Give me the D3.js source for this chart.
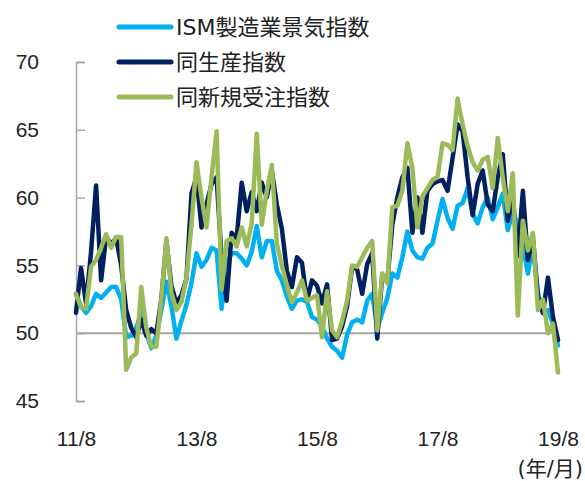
<!DOCTYPE html>
<html lang="ja">
<head>
<meta charset="UTF-8">
<title>ISM製造業景気指数</title>
<script src="https://cdnjs.cloudflare.com/ajax/libs/d3/7.8.5/d3.min.js"></script>
<style>
  html, body { margin: 0; padding: 0; background: #fff; }
  svg { display: block; font-family: "DejaVu Sans", "Noto Sans CJK JP", sans-serif; }
  .axis text { font-size: 21px; fill: #222; }
  .legend text { font-size: 22px; fill: #222; }
</style>
</head>
<body>
<svg id="chart" width="585" height="481"></svg>
<script>
// 2011/8 ～ 2019/8 の月次データ (97か月)
const xTickIndex = [0, 24, 48, 72, 96];
const xTickLabels = ["11/8", "13/8", "15/8", "17/8", "19/8"];
const yTicks = [45, 50, 55, 60, 65, 70];

const ismValues = [
  52.9, 52.0, 51.5, 52.0, 52.9, 52.6, 53.0, 53.4, 53.4, 52.5, 49.7, 49.8, 50.4, 51.5, 50.0, 48.9,
  49.8, 51.7, 53.8, 52.0, 49.6, 50.9, 52.1, 53.7, 55.9, 54.9, 55.4, 56.3, 56.1, 51.8, 55.1, 55.9,
  55.9, 55.5, 55.0, 56.0, 57.9, 55.6, 56.8, 56.8, 54.6, 53.9, 52.7, 51.8, 52.4, 52.5, 52.3, 51.2,
  51.0, 50.5, 49.6, 49.0, 48.7, 48.2, 49.9, 50.8, 51.0, 50.8, 52.4, 52.9, 50.4, 51.5, 52.6, 54.4,
  54.1, 55.6, 57.5, 56.1, 55.6, 55.5, 56.3, 56.6, 58.3, 59.9, 58.5, 57.7, 59.4, 59.6, 60.7, 58.8,
  58.1, 59.3, 60.0, 58.4, 59.3, 60.3, 57.6, 59.0, 58.0, 56.5, 54.4, 56.5, 53.0, 51.5, 51.7, 50.7,
  49.1
];

const productionValues = [
  51.5, 54.8, 52.2, 56.0, 60.9, 53.9, 57.1, 56.6, 57.0, 55.0, 51.7, 50.4, 49.7, 51.0, 49.8, 50.3,
  50.0, 52.5, 56.8, 53.5, 52.2, 52.8, 54.0, 60.3, 61.5, 57.8, 59.5, 61.0, 61.5, 55.5, 52.4, 57.4,
  57.0, 61.1, 59.0, 60.4, 59.0, 61.1, 60.0, 62.0, 59.5, 57.7, 54.6, 53.4, 55.6, 55.2, 52.4, 53.9,
  53.5, 52.2, 53.6, 49.5, 49.6, 50.5, 52.0, 54.9, 54.7, 52.9, 55.1, 55.9, 49.6, 54.3, 53.8, 58.0,
  60.0, 61.5, 62.2, 57.4, 60.0, 57.4, 60.5, 61.0, 61.2, 61.3, 60.5, 62.9, 65.4, 64.9, 61.5, 58.7,
  61.0, 62.0, 59.5, 59.0, 61.5, 63.2, 58.3, 60.0, 55.7, 60.5, 55.4, 57.1, 52.7, 51.5, 54.1, 51.2,
  49.5
];

const newOrderValues = [
  52.9, 51.9, 51.8, 54.9, 55.4, 56.3, 57.3, 56.3, 57.1, 57.1, 47.3, 48.2, 48.5, 53.4, 50.4, 49.0,
  49.0, 52.5, 57.0, 53.0, 51.7, 52.3, 54.1, 58.0, 62.6, 60.0, 57.8, 61.5, 64.9, 53.2, 56.8, 57.0,
  56.4, 57.8, 56.4, 58.1, 64.7, 58.0, 60.5, 62.4, 56.6, 55.0, 53.5, 52.3, 53.0, 53.9, 52.4, 52.6,
  52.8, 49.7, 53.1, 50.2, 49.7, 50.9, 52.4, 55.0, 54.9, 55.6, 56.3, 56.8, 50.2, 54.4, 53.7, 59.3,
  59.4, 60.5, 64.0, 62.2, 57.8, 60.1, 60.7, 61.3, 61.5, 64.0, 63.9, 63.5, 67.3, 65.4, 63.8, 62.6,
  62.0, 62.8, 63.0, 60.7, 64.4, 61.5, 59.0, 61.8, 51.3, 58.3, 56.1, 57.4, 51.7, 52.5, 50.0, 50.7,
  47.1
];

const seriesNames = ["ISM製造業景気指数", "同生産指数", "同新規受注指数"];
const seriesColors = ["#00B0F0", "#002060", "#9BBB59"];
const seriesValues = [ismValues, productionValues, newOrderValues];

const svg = d3.select("#chart");

const x = d3.scaleLinear().domain([0, ismValues.length - 1]).range([76, 558]);
const y = d3.scaleLinear().domain([45, 70]).range([401, 62]);

// 50 の基準線
svg.append("line")
  .attr("x1", x(0)).attr("x2", x(ismValues.length - 1))
  .attr("y1", y(50)).attr("y2", y(50))
  .attr("stroke", "#A6A6A6")
  .attr("stroke-width", 2);

// Y軸 (目盛りは内向き)
const yAxis = svg.append("g")
  .attr("class", "axis")
  .attr("transform", `translate(${x(0)},0)`)
  .call(d3.axisLeft(y).tickValues(yTicks).tickSize(-9).tickSizeOuter(-9).tickPadding(37));
yAxis.selectAll("line, path").attr("stroke", "#A6A6A6").attr("stroke-width", 1.5);

// X軸ラベル
const xAxis = svg.append("g")
  .attr("class", "axis")
  .attr("transform", "translate(0,431)")
  .call(d3.axisBottom(x).tickValues(xTickIndex).tickSize(0).tickPadding(0)
    .tickFormat((d, i) => xTickLabels[i]));
xAxis.select(".domain").remove();

svg.append("text")
  .attr("x", 583).attr("y", 476)
  .attr("text-anchor", "end")
  .style("font-size", "21px")
  .style("fill", "#222")
  .text("(年/月)");

// 折れ線
const line = d3.line()
  .x((d, i) => x(i))
  .y(d => y(d));

seriesValues.forEach((vals, k) => {
  svg.append("path")
    .datum(vals)
    .attr("fill", "none")
    .attr("stroke", seriesColors[k])
    .attr("stroke-width", 4.5)
    .attr("stroke-linejoin", "round")
    .attr("stroke-linecap", "round")
    .attr("d", line);
});

// 凡例
const legend = svg.append("g").attr("class", "legend");
seriesNames.forEach((name, k) => {
  const ly = 27 + k * 35;
  legend.append("line")
    .attr("x1", 119).attr("x2", 171)
    .attr("y1", ly).attr("y2", ly)
    .attr("stroke", seriesColors[k])
    .attr("stroke-width", 5)
    .attr("stroke-linecap", "round");
  legend.append("text")
    .attr("x", 176).attr("y", ly)
    .attr("dy", "0.36em")
    .text(name);
});
</script>
</body>
</html>
